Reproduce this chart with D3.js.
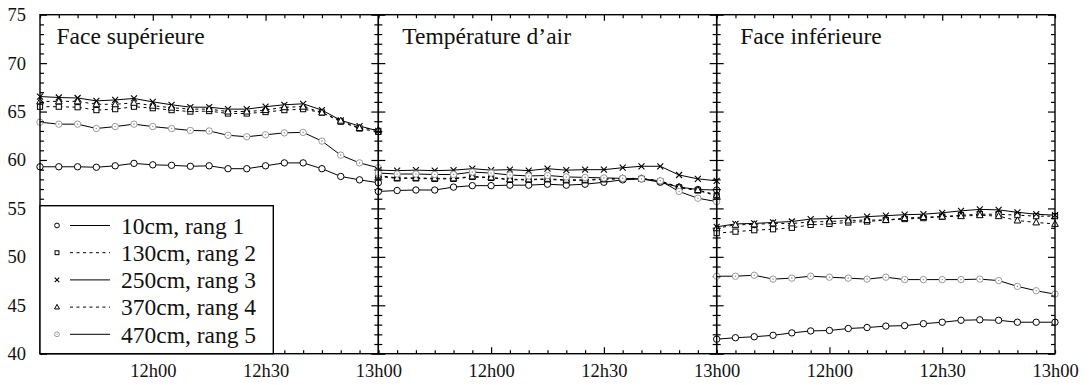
<!DOCTYPE html>
<html><head><meta charset="utf-8">
<script src="https://cdn.jsdelivr.net/npm/d3@7"></script>
<style>
body{margin:0;background:#fff}
svg{display:block}
text{font-family:"Liberation Serif","DejaVu Serif","Noto Serif",serif !important;fill:#111}
</style>
</head><body>
<svg id="chart" width="1090" height="385"></svg>
<script>
// ---------- DATA ----------
const times = ["11h30","11h35","11h40","11h45","11h50","11h55","12h00","12h05","12h10","12h15",
               "12h20","12h25","12h30","12h35","12h40","12h45","12h50","12h55","13h00"];
const xTickLabels = ["12h00","12h30","13h00"];
const yTicks = [40,45,50,55,60,65,70,75];
const panelTitles = ["Face supérieure","Température d’air","Face inférieure"];
const seriesLabels = ["10cm, rang 1","130cm, rang 2","250cm, rang 3","370cm, rang 4","470cm, rang 5"];

// Face supérieure
const sup_r1 = [59.3,59.3,59.3,59.25,59.4,59.65,59.5,59.45,59.35,59.4,59.1,59.1,59.4,59.7,59.7,59.1,58.3,57.95,57.65];
const sup_r2 = [65.5,65.5,65.45,65.15,65.25,65.5,65.35,65.15,65.0,65.05,64.8,64.8,64.95,65.15,65.25,64.9,63.95,63.25,62.9];
const sup_r3 = [66.55,66.45,66.4,66.1,66.2,66.35,66.0,65.7,65.45,65.45,65.25,65.25,65.5,65.7,65.8,65.15,64.1,63.5,63.0];
const sup_r4 = [66.05,66.05,66.05,65.75,65.75,65.9,65.6,65.4,65.25,65.25,65.0,65.0,65.15,65.45,65.5,64.9,64.05,63.3,63.1];
const sup_r5 = [63.9,63.7,63.7,63.25,63.45,63.7,63.45,63.25,63.05,63.0,62.55,62.4,62.6,62.8,62.85,61.95,60.5,59.7,59.2];
// Température d'air
const air_r1 = [56.75,56.85,56.9,56.9,57.2,57.35,57.35,57.4,57.4,57.5,57.4,57.5,57.7,57.95,58.05,57.7,57.2,56.95,56.9];
const air_r2 = [58.3,58.1,58.1,58.05,58.05,58.25,58.15,57.95,57.95,58.0,57.9,57.9,58.0,58.05,58.05,57.8,57.15,56.85,56.3];
const air_r3 = [58.95,58.9,58.95,58.9,58.95,59.1,58.95,59.0,58.9,59.1,58.95,59.0,59.0,59.2,59.35,59.35,58.45,58.05,57.85];
const air_r4 = [58.4,58.15,58.15,58.1,58.1,58.3,58.2,58.0,58.0,58.05,57.95,57.95,58.05,58.1,58.1,57.85,57.2,56.9,56.4];
const air_r5 = [58.65,58.55,58.55,58.5,58.5,58.75,58.65,58.45,58.35,58.4,58.25,58.2,58.15,58.1,58.05,57.85,56.75,56.05,55.7];
// Face inférieure
const inf_r1 = [41.5,41.65,41.75,41.9,42.15,42.35,42.4,42.6,42.7,42.85,42.9,43.1,43.25,43.45,43.5,43.45,43.25,43.25,43.25];
const inf_r2 = [52.45,52.6,52.75,52.85,53.0,53.3,53.4,53.55,53.65,53.8,53.9,54.0,54.15,54.3,54.4,54.4,54.3,54.2,54.2];
const inf_r3 = [53.1,53.4,53.45,53.55,53.65,53.9,53.95,54.0,54.15,54.25,54.35,54.4,54.55,54.75,54.9,54.85,54.6,54.4,54.3];
const inf_r4 = [52.95,53.3,53.35,53.45,53.45,53.6,53.65,53.75,53.8,53.8,54.0,54.1,54.15,54.2,54.3,54.2,53.75,53.55,53.4];
const inf_r5 = [48.0,48.0,48.1,47.7,47.8,48.0,47.9,47.8,47.7,47.9,47.65,47.65,47.65,47.65,47.7,47.55,46.95,46.5,46.15];

const panelSeries = [
  [sup_r1,sup_r2,sup_r3,sup_r4,sup_r5],
  [air_r1,air_r2,air_r3,air_r4,air_r5],
  [inf_r1,inf_r2,inf_r3,inf_r4,inf_r5]
];

// ---------- LAYOUT ----------
const plotL = 40, plotR = 1055, plotT = 14.7, plotB = 353.7;
const panelW = (plotR - plotL) / 3;
const titleDx = [16.5, 24, 23.5];
const markers = ["circle","square","x","triangle","dotcircle"];
const dashes = [null,"3,3.5",null,"3,3.5",null];

const toMin = s => { const [h,m] = s.split("h").map(Number); return h*60+m; };
const tMin = times.map(toMin);

const svg = d3.select("#chart");
const y = d3.scaleLinear().domain([40,75]).range([plotB,plotT]);

function drawMarker(g, type, cx, cy, k){
  k = k || 1;
  if(type==="circle"){
    g.append("circle").attr("cx",cx).attr("cy",cy).attr("r",3.2*k)
      .attr("fill","#fff").attr("stroke","#000").attr("stroke-width",1);
  } else if(type==="square"){
    const s = 5.2*k;
    g.append("rect").attr("x",cx-s/2).attr("y",cy-s/2).attr("width",s).attr("height",s)
      .attr("fill","#fff").attr("stroke","#000").attr("stroke-width",1);
  } else if(type==="x"){
    const s = 3*k;
    g.append("path").attr("d",`M${cx-s},${cy-s}L${cx+s},${cy+s}M${cx-s},${cy+s}L${cx+s},${cy-s}`)
      .attr("stroke","#000").attr("stroke-width",1.1).attr("fill","none");
  } else if(type==="triangle"){
    const s = 3.3*k;
    g.append("path").attr("d",`M${cx},${cy-s*1.1}L${cx+s},${cy+s*0.75}L${cx-s},${cy+s*0.75}Z`)
      .attr("fill","#fff").attr("stroke","#000").attr("stroke-width",1);
  } else if(type==="dotcircle"){
    g.append("circle").attr("cx",cx).attr("cy",cy).attr("r",3.2*k)
      .attr("fill","#fff").attr("stroke","#999").attr("stroke-width",1);
    g.append("circle").attr("cx",cx).attr("cy",cy).attr("r",0.8*k).attr("fill","#999");
  }
}

const majorX = ["12h00","12h30"].map(toMin);
const minorX = tMin.filter(t => !majorX.includes(t));
const minorY = d3.range(41,75).filter(v => v % 5 !== 0);

panelSeries.forEach((seriesList, pi) => {
  const x0 = plotL + pi*panelW, x1 = x0 + panelW;
  const x = d3.scaleLinear().domain([toMin("11h30"), toMin("13h00")]).range([x0, x1]);
  const g = svg.append("g");

  seriesList.forEach((vals, si) => {
    const line = d3.line().x((d,i)=>x(tMin[i])).y(d=>y(d));
    g.append("path").datum(vals).attr("d",line)
      .attr("fill","none").attr("stroke","#000").attr("stroke-width",1)
      .attr("stroke-dasharray",dashes[si]);
  });
  seriesList.forEach((vals, si) => {
    const mg = g.append("g");
    vals.forEach((v,i) => drawMarker(mg, markers[si], x(tMin[i]), y(v)));
  });

  g.append("rect").attr("x",x0).attr("y",plotT).attr("width",panelW).attr("height",plotB-plotT)
    .attr("fill","none").attr("stroke","#000").attr("stroke-width",1.4);

  const axL = g.append("g").attr("transform",`translate(${x0},0)`)
    .call(d3.axisRight(y).tickValues(yTicks).tickSize(7).tickFormat(""));
  const axLm = g.append("g").attr("transform",`translate(${x0},0)`)
    .call(d3.axisRight(y).tickValues(minorY).tickSize(4).tickFormat(""));
  const axR = g.append("g").attr("transform",`translate(${x1},0)`)
    .call(d3.axisLeft(y).tickValues(yTicks).tickSize(7).tickFormat(""));
  const axRm = g.append("g").attr("transform",`translate(${x1},0)`)
    .call(d3.axisLeft(y).tickValues(minorY).tickSize(4).tickFormat(""));
  const axT = g.append("g").attr("transform",`translate(0,${plotT})`)
    .call(d3.axisBottom(x).tickValues(majorX).tickSize(6).tickFormat(""));
  const axTm = g.append("g").attr("transform",`translate(0,${plotT})`)
    .call(d3.axisBottom(x).tickValues(minorX).tickSize(3.5).tickFormat(""));
  const axB = g.append("g").attr("transform",`translate(0,${plotB})`)
    .call(d3.axisTop(x).tickValues(majorX).tickSize(6.5).tickFormat(""));
  const axBm = g.append("g").attr("transform",`translate(0,${plotB})`)
    .call(d3.axisTop(x).tickValues(minorX).tickSize(3.5).tickFormat(""));
  [axL,axLm,axR,axRm,axT,axTm,axB,axBm].forEach(a => {
    a.select(".domain").remove();
    a.selectAll(".tick line").attr("stroke","#000").attr("stroke-width",1.2);
  });

  const axLab = g.append("g").attr("transform",`translate(0,${plotB})`)
    .call(d3.axisBottom(x).tickValues(xTickLabels.map(toMin)).tickSize(0)
      .tickFormat((d,i)=>xTickLabels[i]));
  axLab.select(".domain").remove();
  axLab.attr("font-family",null);
  axLab.selectAll("text").attr("font-size",18.5)
    .attr("fill","#111").attr("dy",0).attr("y",23);

  g.append("text").attr("x",x0+titleDx[pi]).attr("y",44.3)
    .attr("font-size",23.5).text(panelTitles[pi]);
});

const yLab = svg.append("g").attr("transform",`translate(${plotL},0)`)
  .call(d3.axisLeft(y).tickValues(yTicks).tickSize(0).tickPadding(14).tickFormat(d3.format("d")));
yLab.select(".domain").remove();
yLab.attr("font-family",null);
yLab.selectAll("text").attr("font-size",18.5).attr("fill","#111");

const lg = svg.append("g");
lg.append("rect").attr("x",plotL).attr("y",205.7).attr("width",233.3).attr("height",plotB-205.7)
  .attr("fill","#fff").attr("stroke","#000").attr("stroke-width",1.4);
seriesLabels.forEach((lab, si) => {
  const cy = 225.5 + si*27.2;
  drawMarker(lg, markers[si], 57, cy, 0.75);
  lg.append("line").attr("x1",70).attr("x2",110).attr("y1",cy).attr("y2",cy)
    .attr("stroke","#000").attr("stroke-width",1).attr("stroke-dasharray",dashes[si]);
  lg.append("text").attr("x",121).attr("y",cy).attr("dy","0.35em").attr("font-size",23.5).text(lab);
});
</script>
</body></html>
